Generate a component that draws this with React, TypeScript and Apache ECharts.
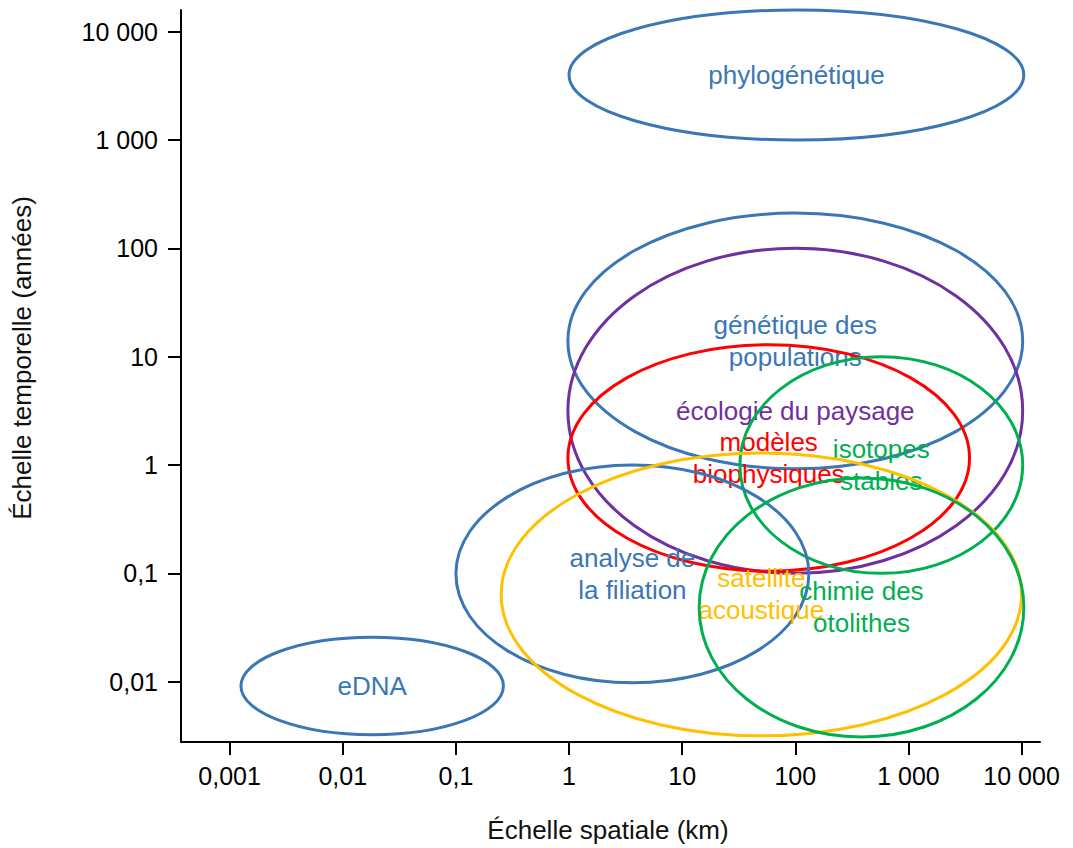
import React, { useEffect, useRef } from "react";
import * as echarts from "echarts";

// Axis ticks (real units) and their printed labels
const xTickValues = [0.001, 0.01, 0.1, 1, 10, 100, 1000, 10000];
const xTickLabels = ["0,001", "0,01", "0,1", "1", "10", "100", "1 000", "10 000"];
const yTickValues = [0.01, 0.1, 1, 10, 100, 1000, 10000];
const yTickLabels = ["0,01", "0,1", "1", "10", "100", "1 000", "10 000"];

// Method names (labels drawn at the ellipse centres)
const methods = [
  "phylogénétique",
  "génétique des\npopulations",
  "écologie du paysage",
  "modèles\nbiophysiques",
  "isotopes\nstables",
  "analyse de\nla filiation",
  "satellite\nacoustique",
  "chimie des\notolithes",
  "eDNA",
];
// Extents of each ellipse, in log10 units (km for x, years for y)
const xMinLog = [0.0, -0.01, -0.01, -0.01, 1.51, -1.0, -0.6, 1.15, -2.9];
const xMaxLog = [4.02, 4.01, 4.01, 3.54, 4.01, 2.12, 4.0, 4.02, -0.58];
const yMinLog = [3.0, -0.035, -1.0, -0.98, -1.0, -2.01, -2.5, -2.51, -2.49];
const yMaxLog = [4.2, 2.325, 2.0, 1.11, 1.0, 0.0, 0.11, -0.12, -1.59];
const colors = [
  "#3a77b4",
  "#3a77b4",
  "#7030a0",
  "#ff0000",
  "#00b050",
  "#3a77b4",
  "#ffc000",
  "#00b050",
  "#3a77b4",
];

const FONT = "'Liberation Sans', Arial, Helvetica, sans-serif";

export default function App() {
  const ref = useRef<HTMLDivElement>(null);

  useEffect(() => {
    if (!ref.current) return;
    const chart = echarts.init(ref.current, undefined, { renderer: "svg" });

    const xTickLog = xTickValues.map((v) => Math.round(Math.log10(v)));
    const yTickLog = yTickValues.map((v) => Math.round(Math.log10(v)));

    const data = methods.map((_, i) => [xMinLog[i], xMaxLog[i], yMinLog[i], yMaxLog[i], i]);

    const option: any = {
      animation: false,
      grid: { left: 181, right: 33, top: 10, bottom: 106, containLabel: false },
      xAxis: {
        type: "value",
        min: -3.43,
        max: 4.163,
        splitLine: { show: false },
        axisLine: { show: true, onZero: false, lineStyle: { color: "#000", width: 2 } },
        axisTick: {
          show: true,
          customValues: xTickLog,
          length: 13,
          inside: false,
          lineStyle: { color: "#000", width: 2 },
        },
        axisLabel: {
          customValues: xTickLog,
          margin: 21,
          fontSize: 25,
          color: "#000",
          fontFamily: FONT,
          formatter: (v: number) => {
            const k = xTickLog.indexOf(Math.round(v));
            return k >= 0 ? xTickLabels[k] : "";
          },
        },
      },
      yAxis: {
        type: "value",
        min: -2.557,
        max: 4.2,
        splitLine: { show: false },
        axisLine: { show: true, onZero: false, lineStyle: { color: "#000", width: 2 } },
        axisTick: {
          show: true,
          customValues: yTickLog,
          length: 13,
          inside: false,
          lineStyle: { color: "#000", width: 2 },
        },
        axisLabel: {
          customValues: yTickLog,
          margin: 23,
          fontSize: 25,
          color: "#000",
          fontFamily: FONT,
          formatter: (v: number) => {
            const k = yTickLog.indexOf(Math.round(v));
            return k >= 0 ? yTickLabels[k] : "";
          },
        },
      },
      graphic: [
        {
          type: "text",
          x: 608,
          y: 830,
          style: {
            text: "Échelle spatiale (km)",
            fill: "#111",
            fontSize: 26,
            fontFamily: FONT,
            align: "center",
            verticalAlign: "middle",
          },
        },
        {
          type: "text",
          x: 22,
          y: 358,
          rotation: Math.PI / 2,
          style: {
            text: "Échelle temporelle (années)",
            fill: "#111",
            fontSize: 26,
            fontFamily: FONT,
            align: "center",
            verticalAlign: "middle",
          },
        },
      ],
      series: [
        {
          type: "custom",
          clip: false,
          dimensions: ["x0", "x1", "y0", "y1", "idx"],
          encode: { x: [0, 1], y: [2, 3] },
          data,
          renderItem: (params: any, api: any) => {
            const i = api.value(4);
            const p1 = api.coord([api.value(0), api.value(2)]);
            const p2 = api.coord([api.value(1), api.value(3)]);
            const cx = (p1[0] + p2[0]) / 2;
            const cy = (p1[1] + p2[1]) / 2;
            const rx = Math.abs(p2[0] - p1[0]) / 2;
            const ry = Math.abs(p1[1] - p2[1]) / 2;
            return {
              type: "group",
              children: [
                {
                  type: "text",
                  x: cx,
                  y: cy,
                  style: {
                    text: methods[i],
                    fill: colors[i],
                    fontSize: 26,
                    fontFamily: FONT,
                    lineHeight: 32,
                    align: "center",
                    verticalAlign: "middle",
                  },
                },
                {
                  type: "ellipse",
                  shape: { cx, cy, rx, ry },
                  style: { fill: "none", stroke: colors[i], lineWidth: 3 },
                },
              ],
            };
          },
        },
      ],
    };

    chart.setOption(option);
    return () => chart.dispose();
  }, []);

  return (
    <div
      ref={ref}
      style={{ position: "fixed", left: 0, top: 0, width: 1073, height: 848, background: "#fff" }}
    />
  );
}
